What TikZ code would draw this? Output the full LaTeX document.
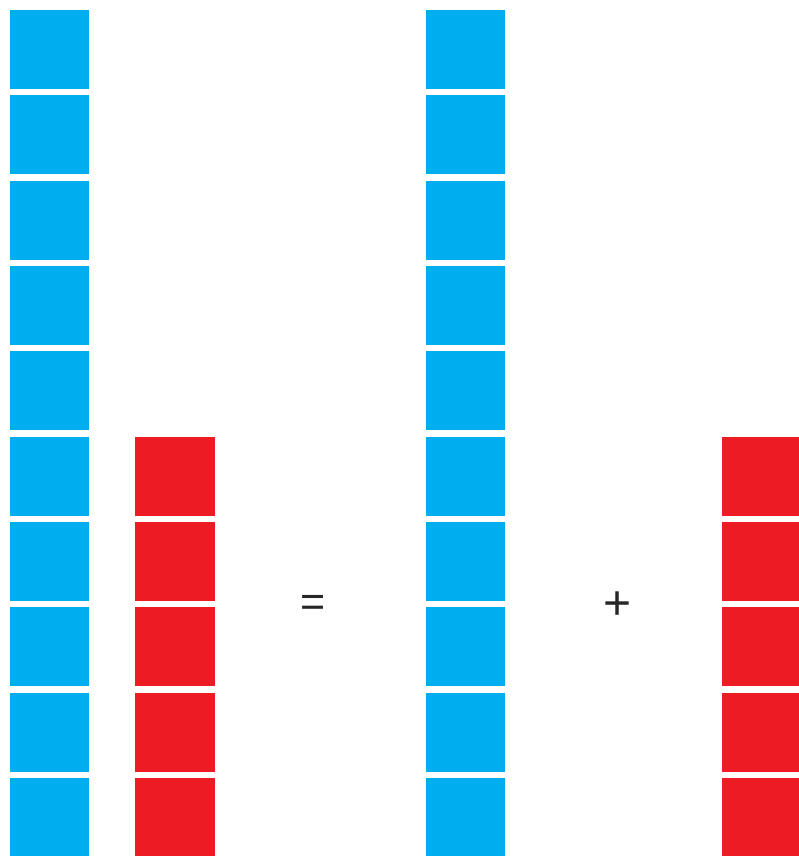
\documentclass[tikz,border=0pt]{standalone}
\usepackage{fontspec}
\newfontfamily\opfont{Liberation Sans}
\definecolor{sqblue}{HTML}{00AEEF}
\definecolor{sqred}{HTML}{ED1C24}
\begin{document}
\begin{tikzpicture}[x=1pt,y=-1pt,
  bluesq/.style={fill=sqblue},
  redsq/.style={fill=sqred},
  opsign/.style={text=black!85, inner sep=0pt}]
\useasboundingbox (0,0) rectangle (798,856);
\foreach \i in {0,...,9}{
  \fill[bluesq] (10,{10+85.33*\i}) rectangle (89,{89+85.33*\i});
  \fill[bluesq] (426,{10+85.33*\i}) rectangle (505,{89+85.33*\i});
}
\foreach \j in {5,...,9}{
  \fill[redsq] (135,{10+85.33*\j}) rectangle (214.5,{89+85.33*\j});
  \fill[redsq] (722,{10+85.33*\j}) rectangle (801,{89+85.33*\j});
}
\node[opsign, font=\opfont\fontsize{43}{48}\selectfont] (eq) at (313,606) {=};
\node[opsign, font=\opfont\fontsize{48}{52}\selectfont] (plus) at (617.5,606) {+};
\end{tikzpicture}
\end{document}
